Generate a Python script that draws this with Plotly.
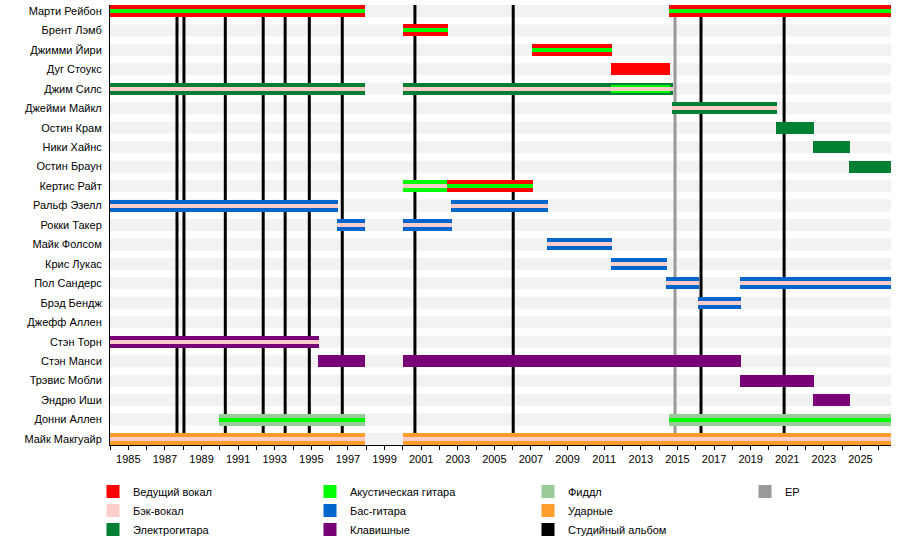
"""
    Shenandoah line-up timeline, rebuilt with plotly bars
"""

##########==========##########==========##########==========##########==========##########==========
## HEADER
import plotly.graph_objects as go

## members, top to bottom
members = [
    'Марти Рейбон', 'Брент Лэмб', 'Джимми Йири', 'Дуг Стоукс', 'Джим Силс', 'Джейми Майкл',
    'Остин Крам', 'Ники Хайнс', 'Остин Браун', 'Кертис Райт', 'Ральф Эзелл', 'Рокки Такер',
    'Майк Фолсом', 'Крис Лукас', 'Пол Сандерс', 'Брэд Бендж', 'Джефф Аллен', 'Стэн Торн',
    'Стэн Манси', 'Трэвис Мобли', 'Эндрю Иши', 'Донни Аллен', 'Майк Макгуайр'
]

## roles (legend order, column by column)
role_names = [
    'Ведущий вокал', 'Бэк-вокал', 'Электрогитара',
    'Акустическая гитара', 'Бас-гитара', 'Клавишные',
    'Фиддл', 'Ударные', 'Студийный альбом',
    'EP'
]
role_colors = [
    '#ff0000', '#ffcccc', '#008033',
    '#00ff00', '#0066cc', '#770077',
    '#99cc99', '#ff9e2c', '#000000',
    '#999999'
]

timeline_start = 1984.0
timeline_end = 2026.67

## one entry per stint
stint_member = [
    'Марти Рейбон', 'Марти Рейбон', 'Брент Лэмб', 'Джимми Йири', 'Дуг Стоукс',
    'Джим Силс', 'Джим Силс', 'Джейми Майкл', 'Остин Крам', 'Ники Хайнс', 'Остин Браун',
    'Кертис Райт', 'Кертис Райт', 'Ральф Эзелл', 'Ральф Эзелл', 'Рокки Такер', 'Рокки Такер',
    'Майк Фолсом', 'Крис Лукас', 'Пол Сандерс', 'Пол Сандерс', 'Брэд Бендж',
    'Стэн Торн', 'Стэн Манси', 'Стэн Манси', 'Трэвис Мобли', 'Эндрю Иши',
    'Донни Аллен', 'Донни Аллен', 'Майк Макгуайр', 'Майк Макгуайр'
]
stint_start = [
    1984.0, 2014.53, 2000.0, 2007.05, 2011.36,
    1984.0, 2000.0, 2014.69, 2020.37, 2022.39, 2024.35,
    2000.0, 2002.4, 1984.0, 2002.62, 1996.4, 2000.0,
    2007.87, 2011.36, 2014.36, 2018.4, 2016.1,
    1984.0, 1995.36, 2000.0, 2018.4, 2022.39,
    1989.95, 2014.53, 1984.0, 2000.0
]
stint_end = [
    1997.93, timeline_end, 2002.44, 2011.42, 2014.59,
    1997.93, 2014.75, 2020.43, 2022.45, 2024.41, timeline_end,
    2002.4, 2007.1, 1996.44, 2007.92, 1997.93, 2002.67,
    2011.42, 2014.42, 2016.16, timeline_end, 2018.46,
    1995.42, 1997.93, 2018.46, 2022.45, 2024.41,
    1997.93, timeline_end, 1997.93, timeline_end
]
stint_main = [
    'Ведущий вокал', 'Ведущий вокал', 'Ведущий вокал', 'Ведущий вокал', 'Ведущий вокал',
    'Электрогитара', 'Электрогитара', 'Электрогитара', 'Электрогитара', 'Электрогитара', 'Электрогитара',
    'Акустическая гитара', 'Ведущий вокал', 'Бас-гитара', 'Бас-гитара', 'Бас-гитара', 'Бас-гитара',
    'Бас-гитара', 'Бас-гитара', 'Бас-гитара', 'Бас-гитара', 'Бас-гитара',
    'Клавишные', 'Клавишные', 'Клавишные', 'Клавишные', 'Клавишные',
    'Фиддл', 'Фиддл', 'Ударные', 'Ударные'
]
stint_inner = [
    'Акустическая гитара', 'Акустическая гитара', 'Акустическая гитара', 'Акустическая гитара', None,
    'Бэк-вокал', 'Бэк-вокал', 'Бэк-вокал', None, None, None,
    'Бэк-вокал', 'Акустическая гитара', 'Бэк-вокал', 'Бэк-вокал', 'Бэк-вокал', 'Бэк-вокал',
    'Бэк-вокал', 'Бэк-вокал', 'Бэк-вокал', 'Бэк-вокал', 'Бэк-вокал',
    'Бэк-вокал', None, None, None, None,
    'Акустическая гитара', 'Акустическая гитара', 'Бэк-вокал', 'Бэк-вокал'
]

## extra role layered under the inner stripe
extra_member = ['Джим Силс']
extra_start = [2011.36]
extra_end = [2014.59]
extra_role = ['Акустическая гитара']
extra_under = ['Бэк-вокал']

## releases
album_years = [1987.66, 1988.04, 1990.3, 1992.37, 1993.57, 1994.89, 1996.69, 2000.66, 2006.03, 2016.29, 2020.83]
ep_years = [2014.87]

tick_years = [1985, 1987, 1989, 1991, 1993, 1995, 1997, 1999, 2001, 2003, 2005,
              2007, 2009, 2011, 2013, 2015, 2017, 2019, 2021, 2023, 2025]
tick_labels = ['1985', '1987', '1989', '1991', '1993', '1995', '1997', '1999', '2001', '2003', '2005',
               '2007', '2009', '2011', '2013', '2015', '2017', '2019', '2021', '2023', '2025']

params = dict(
    font = 'Liberation Sans, Arial, sans-serif',
    band = 0.616, band_color = '#f2f2f2',
    margin = dict(l = 110, r = 9, t = 5, b = 110, autoexpand = False),
    legend_px = [93, 310, 528, 745], legend_top_px = 477
)

##########==========##########==========##########==========##########==========##########==========
## COMPONENT FUNCTIONS


def color_of(role):
    return role_colors[role_names.index(role)]


def set_up_figure() -> go.Figure:
    """
        Purpose: empty figure with axes in place
    """
    n = len(members)
    h = params['band'] / 2
    fig = go.Figure()
    fig.update_layout(
        width = 900, height = 555,
        plot_bgcolor = 'white', paper_bgcolor = 'white',
        font = dict(family = params['font'], size = 11, color = 'black'),
        margin = params['margin'],
        barmode = 'overlay', bargap = 0,
        xaxis = dict(
            range = [timeline_start, timeline_end], showgrid = False, zeroline = False,
            showline = True, linecolor = 'black', linewidth = 1, automargin = False,
            tickvals = tick_years, ticktext = tick_labels,
            ticks = 'outside', ticklen = 4, tickcolor = 'black', tickfont = dict(size = 11),
            minor = dict(dtick = 1, tick0 = 1984, ticks = 'outside', ticklen = 4, tickcolor = 'black')
        ),
        yaxis = dict(
            range = [n - 1 + h, -h], showgrid = False, zeroline = False,
            showline = True, linecolor = 'black', linewidth = 1, automargin = False,
            tickvals = list(range(n)), ticktext = members, ticks = '',
            ticklabelstandoff = 5, tickfont = dict(size = 11)
        ),
        showlegend = True
    )
    return fig


def draw_backdrop(fig):
    """
        Purpose: grey row bands and release lines, below the member bars
    """
    n = len(members)
    h = params['band'] / 2
    shapes = list()
    for i in range(n):
        shapes.append(dict(
            type = 'rect', xref = 'x', yref = 'y', layer = 'below',
            x0 = timeline_start, x1 = timeline_end, y0 = i - h, y1 = i + h,
            fillcolor = params['band_color'], line_width = 0))
    for years, role in [(album_years, 'Студийный альбом'), (ep_years, 'EP')]:
        for yr in years:
            shapes.append(dict(
                type = 'line', xref = 'x', yref = 'y', layer = 'below',
                x0 = yr, x1 = yr, y0 = -h, y1 = n - 1 + h,
                line = dict(color = color_of(role), width = 3)))
    fig.update_layout(shapes = shapes)
    return fig


def bar_trace(who, start, end, role, width):
    return go.Bar(
        y = [members.index(m) for m in who], base = start,
        x = [e - s for s, e in zip(start, end)],
        orientation = 'h', width = width, marker_color = color_of(role),
        marker_line_width = 0, showlegend = False, hoverinfo = 'skip'
    )


def draw_stints(fig):
    """
        Purpose: outer bars per main role, then extra stripes, then inner stripes
    """
    band = params['band']
    for layer, width in [(stint_main, band), (stint_inner, band / 3)]:
        for role in role_names:
            idx = [i for i, r in enumerate(layer) if r == role]
            if not idx:
                continue
            fig.add_trace(bar_trace(
                [stint_member[i] for i in idx], [stint_start[i] for i in idx],
                [stint_end[i] for i in idx], role, width))
        if layer is stint_main:
            for k in range(len(extra_member)):
                fig.add_trace(bar_trace([extra_member[k]], [extra_start[k]], [extra_end[k]],
                                        extra_role[k], band * 2 / 3))
                fig.add_trace(bar_trace([extra_member[k]], [extra_start[k]], [extra_end[k]],
                                        extra_under[k], band / 3))
    return fig


def draw_legend(fig):
    """
        Purpose: four legend columns under the plot
    """
    m = params['margin']
    plot_w = 900 - m['l'] - m['r']
    plot_h = 555 - m['t'] - m['b']
    for i, role in enumerate(role_names):
        col = i // 3
        name = 'legend' if col == 0 else 'legend' + str(col + 1)
        fig.add_trace(go.Scatter(
            x = [None], y = [None], mode = 'markers', name = role, legend = name,
            marker = dict(symbol = 'square', size = 13, color = color_of(role)),
            showlegend = True
        ))
    for col, px in enumerate(params['legend_px']):
        name = 'legend' if col == 0 else 'legend' + str(col + 1)
        fig.update_layout({name: dict(
            x = (px - m['l']) / plot_w, y = 1 - (params['legend_top_px'] - m['t']) / plot_h,
            xanchor = 'left', yanchor = 'top', orientation = 'v',
            font = dict(size = 11), bgcolor = 'rgba(0,0,0,0)', borderwidth = 0,
            tracegroupgap = 0, itemclick = False
        )})
    return fig


##########==========##########==========##########==========##########==========##########==========
## TOP-LEVEL

if __name__ == '__main__':
    fig = set_up_figure()
    fig = draw_backdrop(fig)
    fig = draw_stints(fig)
    fig = draw_legend(fig)
    ## page body has a default margin; drop it so the 900x555 figure sits at the corner
    fig.write_html('out.html', config = {'displayModeBar': False},
                   post_script = "document.body.style.margin = '0';")
